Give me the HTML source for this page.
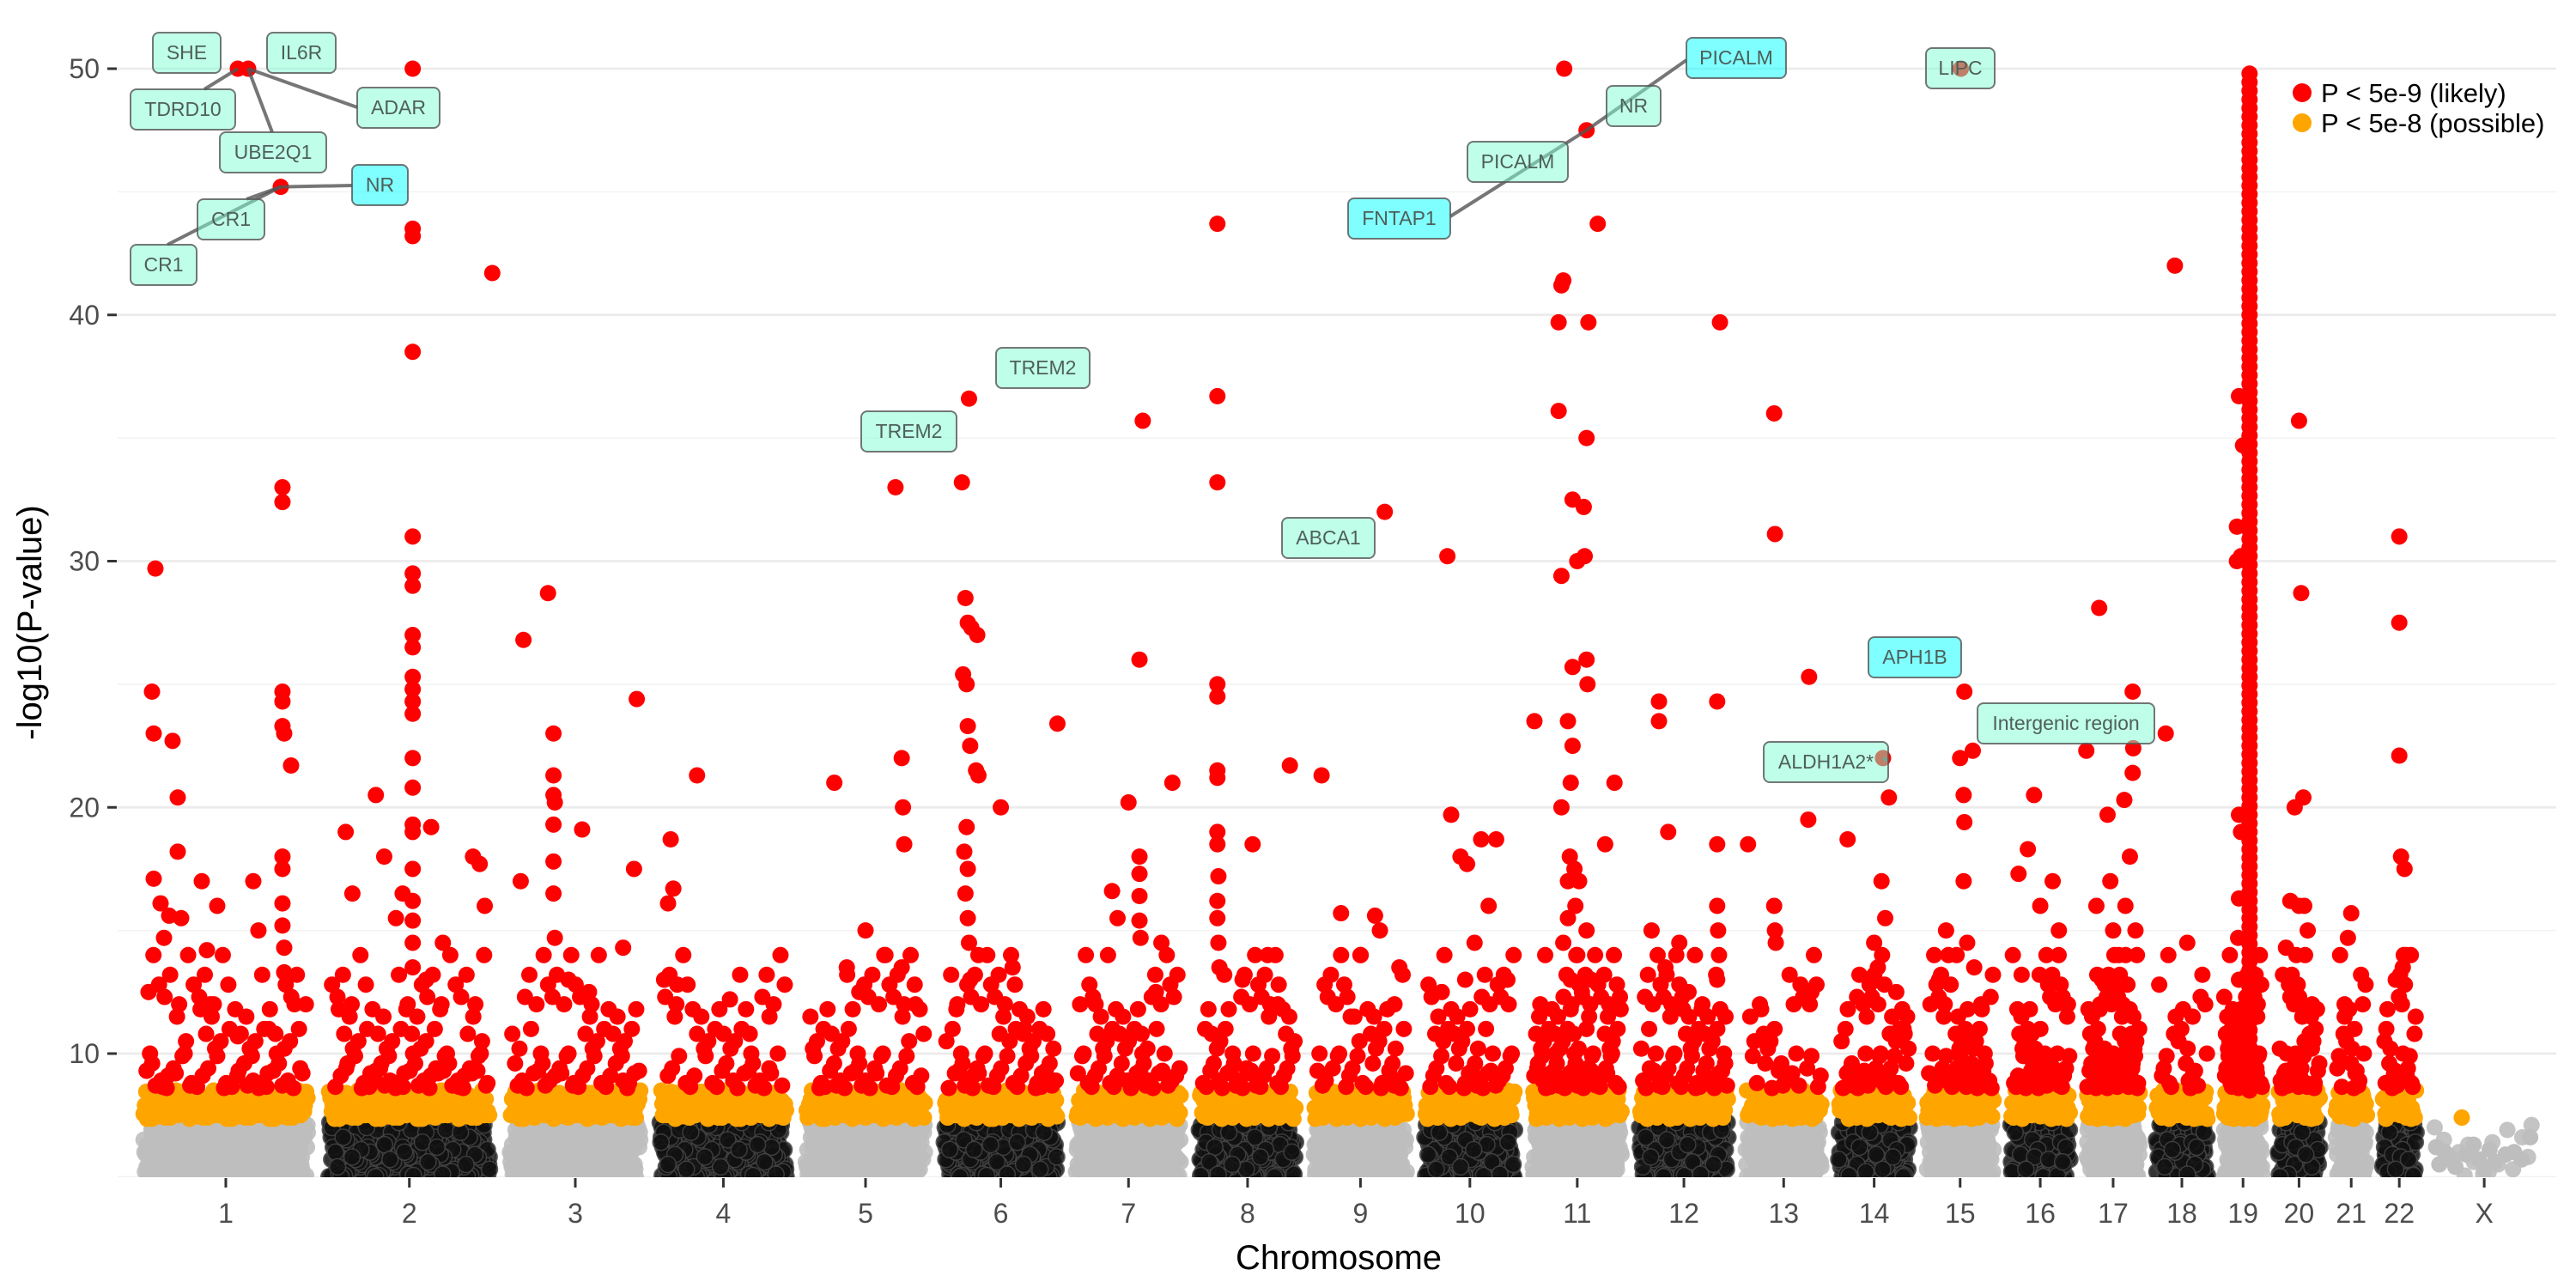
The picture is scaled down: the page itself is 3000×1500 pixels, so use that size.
<!DOCTYPE html>
<html>
<head>
<meta charset="utf-8">
<style>
html,body{margin:0;padding:0;background:#fff;}
svg{display:block;font-family:"Liberation Sans",Arial,sans-serif;}
</style>
</head>
<body>
<svg id="chart" width="3000" height="1500" viewBox="0 0 3000 1500" xmlns="http://www.w3.org/2000/svg">
  <defs><clipPath id="panelClip"><rect x="137" y="0" width="2840" height="1371"/></clipPath></defs>
  <g id="grid"></g>
  <g id="points" clip-path="url(#panelClip)"></g>
  <g id="labels"></g>
  <g id="axes"></g>
  <text x="1559" y="1478" font-size="40" text-anchor="middle" fill="#000">Chromosome</text>
  <text x="0" y="0" font-size="40" text-anchor="middle" fill="#000" transform="translate(48,725) rotate(-90)">-log10(P-value)</text>
  <g>
    <circle cx="2681" cy="108" r="11" fill="#ff0000"/>
    <text x="2703" y="119" font-size="31" fill="#000">P &lt; 5e-9 (likely)</text>
    <circle cx="2681" cy="143" r="11" fill="#ffa500"/>
    <text x="2703" y="154" font-size="31" fill="#000">P &lt; 5e-8 (possible)</text>
  </g>
</svg>
<script>
// ---------- data ----------
const chromNames = ["1","2","3","4","5","6","7","8","9","10","11","12","13","14","15","16","17","18","19","20","21","22","X"];
const chromLengths = [249,243,198,191,181,171,159,146,141,136,135,134,115,107,102,90,81,78,59,63,48,51,155];
const bgDensity = [1.1,1.1,1.1,1.1,1.1,1.1,1.1,1.1,1.1,1.1,1.1,1.1,1.1,1.1,1.1,1.1,1.2,1.2,1.4,1.2,1.2,1.2,0.1];
const orangeDensity = [0.55,0.55,0.5,0.5,0.5,0.55,0.55,0.5,0.5,0.55,0.55,0.55,0.5,0.55,0.6,0.6,0.7,0.6,0.9,0.7,0.6,0.6,0];
const redDensity = [0.3,0.35,0.3,0.25,0.3,0.35,0.35,0.35,0.3,0.35,0.6,0.45,0.25,0.4,0.45,0.5,0.8,0.3,1.0,0.6,0.4,0.5,0];
const bgVals = [5.1,6.2,5.5,6.8,5.3,7.1,5.8,6.5,5.0,6.0,7.2,5.6,6.4,5.2,6.9,5.9,6.6,5.4,7.0,6.1,5.7,6.3,5.05];
const orangeVals = [7.4,8.1,7.6,8.4,7.35,7.9,8.2,7.5,8.5,7.7,8.0,7.45,8.3,7.8,7.55,8.45,7.65,8.15,7.95];
const redBulkVals = [8.7,9.6,10.8,9.1,12.3,8.9,10.2,11.5,9.4,13.2,8.6,10.5,9.9,12.0,9.2,11.0,8.8,14.0,10.0,9.3,11.8,8.65,12.8];
const col19Range = [8.5, 50];
// peaks: [chromosome index, fraction along chromosome, -log10 p]
const peaks = [
[0,.09,29.7],[0,.07,24.7],[0,.08,23],[0,.19,22.7],[0,.22,20.4],[0,.22,18.2],[0,.08,17.1],[0,.12,16.1],[0,.17,15.6],[0,.24,15.5],[0,.14,14.7],[0,.05,12.5],[0,.36,17],[0,.39,14.2],[0,.41,12],[0,.45,16],[0,.57,10.7],[0,.57,50],[0,.63,50],[0,.66,17],[0,.69,15],[0,.82,45.2],[0,.83,33],[0,.83,32.4],[0,.83,24.7],[0,.83,24.3],[0,.83,23.3],[0,.84,23],[0,.88,21.7],[0,.83,18],[0,.83,17.5],[0,.83,16.1],[0,.83,15.2],[0,.84,14.3],[0,.84,13.3],[0,.9,12],[0,.75,11],
[1,.52,50],[1,.52,43.5],[1,.52,43.2],[1,.52,38.5],[1,.52,31],[1,.52,29.5],[1,.52,29],[1,.52,27],[1,.52,26.5],[1,.52,25.3],[1,.52,24.8],[1,.52,24.3],[1,.52,23.8],[1,.52,22],[1,.52,20.8],[1,.52,19.3],[1,.52,19],[1,.52,17.5],[1,.52,16.2],[1,.52,15.4],[1,.52,14.5],[1,.52,13.5],[1,.12,19],[1,.16,16.5],[1,.3,20.5],[1,.42,15.5],[1,.46,16.5],[1,.63,19.2],[1,.7,14.5],[1,.88,18],[1,.92,17.7],[1,.95,16],[1,.995,41.7],[1,.35,18],[1,.6,13],
[2,.12,26.8],[2,.1,17],[2,.3,28.7],[2,.34,23],[2,.34,21.3],[2,.34,20.5],[2,.35,20.2],[2,.34,19.3],[2,.34,17.8],[2,.34,16.5],[2,.35,14.7],[2,.55,19.1],[2,.85,14.3],[2,.95,24.4],[2,.93,17.5],[2,.6,12.5],[2,.45,13],
[3,.1,18.7],[3,.12,16.7],[3,.08,16.1],[3,.05,13],[3,.3,21.3],[3,.55,12.2],[3,.7,10.8],[3,.85,11.5],[3,.15,12.8],
[4,.25,21],[4,.5,15],[4,.74,33],[4,.79,22],[4,.8,20],[4,.81,18.5],[4,.79,13.5],[4,.35,13.5],[4,.65,14],[4,.9,12],[4,.45,12.5],
[5,.23,36.6],[5,.17,33.2],[5,.2,28.5],[5,.22,27.5],[5,.25,27.3],[5,.3,27],[5,.18,25.4],[5,.21,25],[5,.22,23.3],[5,.24,22.5],[5,.29,21.5],[5,.31,21.3],[5,.21,19.2],[5,.19,18.2],[5,.22,17.5],[5,.2,16.5],[5,.22,15.5],[5,.23,14.5],[5,.31,14],[5,.24,13],[5,.5,20],[5,.98,23.4],[5,.6,13.5],[5,.7,11],
[6,.5,20.2],[6,.63,35.7],[6,.6,26],[6,.6,18],[6,.6,17.3],[6,.6,16.4],[6,.6,15.4],[6,.61,14.7],[6,.35,16.6],[6,.4,15.5],[6,.9,21],[6,.8,14.5],[6,.75,12.5],[6,.2,12],
[7,.2,43.7],[7,.2,36.7],[7,.2,33.2],[7,.2,25],[7,.2,24.5],[7,.2,21.5],[7,.2,21.2],[7,.2,19],[7,.2,18.5],[7,.21,17.2],[7,.2,16.2],[7,.2,15.5],[7,.21,14.5],[7,.22,13.5],[7,.55,18.5],[7,.7,14],[7,.45,13],[7,.8,12],[7,.92,21.7],
[8,.1,21.3],[8,.3,15.7],[8,.5,14],[8,.75,32],[8,.65,15.6],[8,.7,15],[8,.85,12],[8,.4,11.5],[8,.9,13.5],
[9,.26,30.2],[9,.3,19.7],[9,.4,18],[9,.47,17.7],[9,.62,18.7],[9,.78,18.7],[9,.55,14.5],[9,.7,16],[9,.45,13],[9,.9,13],[9,.2,12.5],
[10,.36,50],[10,.6,47.5],[10,.72,43.7],[10,.33,41.2],[10,.35,41.4],[10,.3,39.7],[10,.3,36.1],[10,.62,39.7],[10,.6,35],[10,.57,32.2],[10,.58,30.2],[10,.45,32.5],[10,.5,30],[10,.33,29.4],[10,.45,25.7],[10,.6,26],[10,.61,25],[10,.04,23.5],[10,.4,23.5],[10,.45,22.5],[10,.43,21],[10,.33,20],[10,.42,18],[10,.4,17],[10,.47,17.5],[10,.52,17],[10,.48,16],[10,.4,15.5],[10,.35,14.5],[10,.5,14],[10,.43,13],[10,.55,12.5],[10,.6,15],[10,.65,13],[10,.8,18.5],[10,.9,21],
[11,.23,24.3],[11,.23,23.5],[11,.33,19],[11,.15,15],[11,.3,13.5],[11,.45,14.5],[11,.55,12.5],[11,.89,39.7],[11,.86,24.3],[11,.86,18.5],[11,.86,16],[11,.87,15],[11,.88,14],[11,.86,13],[11,.7,12],[11,.95,11.5],
[12,.05,18.5],[12,.38,36],[12,.39,31.1],[12,.38,16],[12,.39,15],[12,.4,14.5],[12,.82,25.3],[12,.81,19.5],[12,.85,12.5],[12,.2,12],
[13,.14,18.7],[13,.62,22],[13,.7,20.4],[13,.6,17],[13,.65,15.5],[13,.5,14.5],[13,.55,13.5],[13,.4,11.5],[13,.8,12.5],[13,.9,11],
[14,.51,50],[14,.56,24.7],[14,.5,22],[14,.68,22.3],[14,.55,20.5],[14,.56,19.4],[14,.55,17],[14,.6,14.5],[14,.45,14],[14,.3,15],[14,.2,13],[14,.7,13.5],[14,.8,12],
[15,.3,18.3],[15,.15,17.3],[15,.4,20.5],[15,.5,16],[15,.6,14],[15,.7,17],[15,.8,15],[15,.2,13.2],[15,.9,12],
[16,.25,28.1],[16,.85,24.7],[16,.86,22.4],[16,.85,21.4],[16,.7,20.3],[16,.02,22.3],[16,.4,19.7],[16,.45,17],[16,.5,15],[16,.6,14],[16,.3,13],[16,.72,16],[16,.8,18],[16,.9,15],[16,.2,16],
[17,.2,23],[17,.37,42],[17,.6,14.5],[17,.7,11.5],
[18,.4,36.7],[18,.5,34.7],[18,.35,31.4],[18,.35,30],[18,.45,30.2],[18,.4,19.7],[18,.45,19],[18,.4,16.3],[18,.38,14.7],[18,.4,13],
[19,.5,35.7],[19,.55,28.7],[19,.4,20],[19,.6,20.4],[19,.3,16.2],[19,.5,16],[19,.62,16],[19,.7,15],[19,.2,14.3],[19,.8,12],
[20,.5,15.7],[20,.3,12],[20,.6,11],[20,.4,14.7],
[21,.5,31],[21,.5,27.5],[21,.5,22.1],[21,.55,18],[21,.65,17.5],[21,.7,14],[21,.6,13.5],[21,.4,13]
];
const xExtra = [[22,.29,7.4],[22,.05,6.2],[22,.08,5.5],[22,.13,6.0],[22,.18,5.8],[22,.23,5.4],[22,.33,5.9],[22,.4,6.3],[22,.45,5.7],[22,.55,6.1],[22,.6,5.6],[22,.7,5.9],[22,.78,6.0],[22,.85,5.7],[22,.93,6.6],[22,.5,5.3]];
const yTicks = [10,20,30,40,50];
// labels: [text, anchor chrom, anchor fraction, anchor value, fill, box x, box y, box w, leader end x, leader end y]
const geneLabels = [
["SHE",0,.57,50,"g",178,38,79],["IL6R",0,.63,50,"g",311,38,80],["TDRD10",0,.57,50,"g",152,104,122,238,104],
["ADAR",0,.63,50,"g",416,102,96,416,125],["UBE2Q1",0,.63,50,"g",256,154,124,317,154],
["NR",0,.82,45.2,"c",410,192,65,410,216],["CR1",0,.82,45.2,"g",230,232,78,287,232],["CR1",0,.82,45.2,"g",152,285,77,195,285],
["PICALM",10,.6,47.5,"c",1964,44,116,1964,70],["NR",10,.6,47.5,"g",1871,100,63],["PICALM",10,.6,47.5,"g",1709,165,117],
["FNTAP1",10,.6,47.5,"c",1570,231,119,1689,252],["LIPC",14,.51,50,"g",2243,56,80],
["TREM2",5,.23,36.6,"g",1160,405,109],["TREM2",5,.17,33.2,"g",1003,479,111],["ABCA1",8,.75,32,"g",1493,603,108],
["APH1B",14,.56,24.7,"c",2176,742,108],["Intergenic region",14,.5,22,"g",2303,819,206],["ALDH1A2*",13,.62,22,"g",2054,864,145,2199,886]
];

// ---------- scales ----------
const X0 = 163, K = 0.803, GAP = 20.2;
const cumStart = [];
let acc = 0;
for (let i = 0; i < chromLengths.length; i++) { cumStart.push(acc); acc += chromLengths[i]; }
function xScale(c, frac) { return X0 + K * (cumStart[c] + GAP * c + frac * chromLengths[c]); }
function yScale(v) { return 80 + (50 - v) * 28.675; }

const NS = "http://www.w3.org/2000/svg";
function mk(tag, attrs, parent) {
  const e = document.createElementNS(NS, tag);
  for (const k in attrs) e.setAttribute(k, attrs[k]);
  parent.appendChild(e);
  return e;
}
const grid = document.getElementById("grid");
const pts = document.getElementById("points");
const labs = document.getElementById("labels");
const axes = document.getElementById("axes");

for (let v = 5; v <= 50; v += 5) {
  const major = v % 10 === 0;
  const ln = mk("line", {x1:137, x2:2977, y1:yScale(v), y2:yScale(v), stroke: major ? "#ebebeb" : "#f2f2f2", "stroke-width": major ? 2.8 : 1.5}, grid);
  
  
}
yTicks.forEach(v => {
  const t = mk("line", {x1:125, x2:136, y1:yScale(v), y2:yScale(v), stroke:"#333", "stroke-width":3}, axes);
  
  
  const tx = mk("text", {x:116, y:yScale(v) + 11, "font-size":32, "text-anchor":"end", fill:"#4d4d4d"}, axes);
  
  
  tx.textContent = v;
});
chromNames.forEach((n, c) => {
  const cx = xScale(c, 0.5);
  const t = mk("line", {x1:cx, x2:cx, y1:1372, y2:1383, stroke:"#333", "stroke-width":3}, axes);
  
  
  const tx = mk("text", {x:cx, y:1424, "font-size":32, "text-anchor":"middle", fill:"#4d4d4d"}, axes);
  
  
  tx.textContent = n;
});

function dot(c, f, v, fill, name, extra) {
  const d = mk("circle", {cx:xScale(c, f), cy:yScale(v), r:9.5, fill:fill}, pts);
  if (extra) for (const k in extra) d.setAttribute(k, extra[k]);
  
  
  return d;
}
function spread(j) { return ((j + 0.5) * 0.6180339887) % 1; }
chromLengths.forEach((L, c) => {
  const n = Math.round(L * bgDensity[c]);
  const odd = c % 2 === 0;
  for (let j = 0; j < n; j++) {
    const v = bgVals[(j * 7 + c) % bgVals.length];
    dot(c, 0.02 + 0.96 * spread(j), v, odd ? "#bebebe" : "#111",
      'background-point', odd ? {opacity:0.9} : {stroke:"#444", "stroke-width":1.5, opacity:0.85});
  }
});
xExtra.forEach(p => {
  dot(p[0], p[1], p[2], p[2] > 7.3 ? "#ffa500" : "#bebebe", p[2] > 7.3 ? 'possible-point' : 'background-point');
});
chromLengths.forEach((L, c) => {
  const n = Math.round(L * orangeDensity[c]);
  for (let j = 0; j < n; j++) {
    dot(c, 0.02 + 0.96 * spread(j + 3), orangeVals[(j * 5 + c) % orangeVals.length], "#ffa500", 'possible-point');
  }
});
chromLengths.forEach((L, c) => {
  const n = Math.round(L * redDensity[c]);
  for (let j = 0; j < n; j++) {
    dot(c, 0.03 + 0.94 * spread(j + 7), redBulkVals[(j * 11 + c * 3) % redBulkVals.length], "#ff0000", 'likely-point');
  }
});
for (let v = col19Range[0]; v <= col19Range[1]; v += 0.35) {
  dot(18, 0.66, v, "#ff0000", 'chr19-peak-point');
}
peaks.forEach(p => { dot(p[0], p[1], p[2], "#ff0000", 'likely-point'); });

geneLabels.forEach(l => {
  const ax = xScale(l[1], l[2]), ay = yScale(l[3]);
  if (l.length > 8) {
    const seg = mk("line", {x1:ax, y1:ay, x2:l[8], y2:l[9], stroke:"#555", "stroke-width":4, opacity:0.8}, labs);
    
    
  }
});
geneLabels.forEach(l => {
  const bx = l[5], by = l[6], bw = l[7], bh = 47;
  const g = mk("g", {}, labs);
  
  
  const r = mk("rect", {x:bx, y:by, width:bw, height:bh, rx:7, fill: l[4] === "c" ? "#00ffff" : "#7fffd4", "fill-opacity":0.5, stroke:"#555", "stroke-opacity":0.8, "stroke-width":2}, g);
  
  
  const t = mk("text", {x:bx + bw / 2, y:by + 31, "font-size":23, "text-anchor":"middle", fill:"#4f5f5a"}, g);
  
  
  t.textContent = l[0];
});
</script>
</body>
</html>
